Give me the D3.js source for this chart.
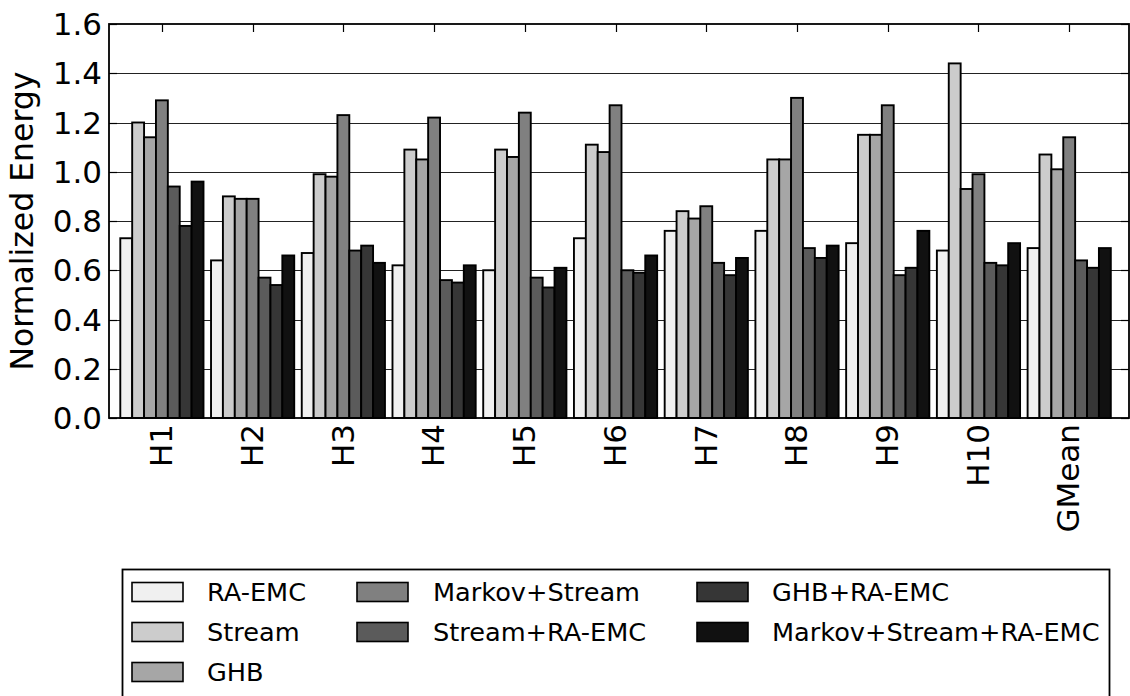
<!DOCTYPE html>
<html>
<head>
<meta charset="utf-8">
<script src="https://cdn.jsdelivr.net/npm/d3@7"></script>
<style>
  html, body { margin: 0; padding: 0; background: #fff; }
  svg { display: block; font-family: "DejaVu Sans", sans-serif; }
</style>
</head>
<body>
<svg id="chart" width="1130" height="696"></svg>
<script>
// ---- Data ----
const categories = ["H1", "H2", "H3", "H4", "H5", "H6", "H7", "H8", "H9", "H10", "GMean"];
const seriesNames = ["RA-EMC", "Stream", "GHB", "Markov+Stream", "Stream+RA-EMC", "GHB+RA-EMC", "Markov+Stream+RA-EMC"];
const raEmc          = [0.73, 0.64, 0.67, 0.62, 0.60, 0.73, 0.76, 0.76, 0.71, 0.68, 0.69];
const stream         = [1.20, 0.90, 0.99, 1.09, 1.09, 1.11, 0.84, 1.05, 1.15, 1.44, 1.07];
const ghb            = [1.14, 0.89, 0.98, 1.05, 1.06, 1.08, 0.81, 1.05, 1.15, 0.93, 1.01];
const markovStream   = [1.29, 0.89, 1.23, 1.22, 1.24, 1.27, 0.86, 1.30, 1.27, 0.99, 1.14];
const streamRaEmc    = [0.94, 0.57, 0.68, 0.56, 0.57, 0.60, 0.63, 0.69, 0.58, 0.63, 0.64];
const ghbRaEmc       = [0.78, 0.54, 0.70, 0.55, 0.53, 0.59, 0.58, 0.65, 0.61, 0.62, 0.61];
const markovStreamRa = [0.96, 0.66, 0.63, 0.62, 0.61, 0.66, 0.65, 0.70, 0.76, 0.71, 0.69];
const seriesValues = [raEmc, stream, ghb, markovStream, streamRaEmc, ghbRaEmc, markovStreamRa];
const seriesColors = ["#f0f0f0", "#cccccc", "#a6a6a6", "#808080", "#5b5b5b", "#363636", "#111111"];
const yTicks = [0.0, 0.2, 0.4, 0.6, 0.8, 1.0, 1.2, 1.4, 1.6];
const yLabel = "Normalized Energy";

// ---- Layout ----
const svg = d3.select("#chart");
const plot = { left: 109, right: 1129, top: 24, bottom: 418 };
const x = d3.scaleLinear().domain([-0.583, 10.659]).range([plot.left, plot.right]);
const y = d3.scaleLinear().domain([0, 1.6]).range([plot.bottom, plot.top]);
const barW = 0.131;
const nS = seriesNames.length;

// gridlines
svg.append("g").selectAll("line").data(yTicks.filter(t => t > 0 && t < 1.6)).join("line")
  .attr("x1", plot.left).attr("x2", plot.right)
  .attr("y1", d => Math.round(y(d)) + 0.5).attr("y2", d => Math.round(y(d)) + 0.5)
  .attr("stroke", "#222").attr("stroke-width", 1);

// bars
const bars = [];
seriesValues.forEach((vals, s) => vals.forEach((v, i) => bars.push({ s, i, v })));
svg.append("g").selectAll("rect").data(bars).join("rect")
  .attr("x", d => x(d.i - nS * barW / 2 + d.s * barW))
  .attr("width", d => x(barW) - x(0))
  .attr("y", d => y(d.v))
  .attr("height", d => y(0) - y(d.v))
  .attr("fill", d => seriesColors[d.s])
  .attr("stroke", "#000").attr("stroke-width", 1.9);

// x ticks (top, inward)
svg.append("g").selectAll("line").data(categories).join("line")
  .attr("x1", (d, i) => Math.round(x(i)) + 0.5).attr("x2", (d, i) => Math.round(x(i)) + 0.5)
  .attr("y1", plot.top).attr("y2", plot.top + 8)
  .attr("stroke", "#000").attr("stroke-width", 1.2);

// y ticks (left & right, inward)
const yt = svg.append("g");
yt.selectAll("line.l").data(yTicks).join("line").attr("class", "l")
  .attr("x1", plot.left).attr("x2", plot.left + 8)
  .attr("y1", d => Math.round(y(d)) + 0.5).attr("y2", d => Math.round(y(d)) + 0.5)
  .attr("stroke", "#000").attr("stroke-width", 1.2);
yt.selectAll("line.r").data(yTicks).join("line").attr("class", "r")
  .attr("x1", plot.right - 8).attr("x2", plot.right)
  .attr("y1", d => Math.round(y(d)) + 0.5).attr("y2", d => Math.round(y(d)) + 0.5)
  .attr("stroke", "#000").attr("stroke-width", 1.2);

// frame
svg.append("rect")
  .attr("x", plot.left).attr("y", plot.top)
  .attr("width", plot.right - plot.left).attr("height", plot.bottom - plot.top)
  .attr("fill", "none").attr("stroke", "#000").attr("stroke-width", 1.8);

// y tick labels
svg.append("g").selectAll("text").data(yTicks).join("text")
  .attr("x", plot.left - 7).attr("y", d => y(d)).attr("dy", "0.36em")
  .attr("text-anchor", "end").attr("font-size", 31).attr("fill", "#000")
  .text(d => d.toFixed(1));

// x tick labels (rotated)
svg.append("g").selectAll("text").data(categories).join("text")
  .attr("transform", (d, i) => `translate(${x(i)},${plot.bottom + 6}) rotate(-90)`)
  .attr("dy", "0.33em")
  .attr("text-anchor", "end").attr("font-size", 31).attr("fill", "#000")
  .text(d => d);

// y label
svg.append("text")
  .attr("transform", `translate(33,${(plot.top + plot.bottom) / 2}) rotate(-90)`)
  .attr("text-anchor", "middle").attr("font-size", 31.5).attr("fill", "#000")
  .text(yLabel);

// legend
const lg = svg.append("g");
lg.append("rect").attr("x", 122.5).attr("y", 569.5).attr("width", 987).attr("height", 140)
  .attr("fill", "#fff").attr("stroke", "#000").attr("stroke-width", 1.8);
const colSwatch = [132, 357, 697];
const colText = [207, 433, 772];
const rowCenter = [592, 632, 672];
const colOf = [0, 0, 0, 1, 1, 2, 2];
const rowOf = [0, 1, 2, 0, 1, 0, 1];
const items = lg.selectAll("g.item").data(seriesNames).join("g").attr("class", "item");
items.append("rect")
  .attr("x", (d, k) => colSwatch[colOf[k]]).attr("y", (d, k) => rowCenter[rowOf[k]] - 9.5)
  .attr("width", 51).attr("height", 19)
  .attr("fill", (d, k) => seriesColors[k]).attr("stroke", "#000").attr("stroke-width", 1.6);
items.append("text")
  .attr("x", (d, k) => colText[colOf[k]]).attr("y", (d, k) => rowCenter[rowOf[k]]).attr("dy", "0.36em")
  .attr("font-size", 25.6).attr("fill", "#000")
  .text(d => d);
</script>
</body>
</html>
